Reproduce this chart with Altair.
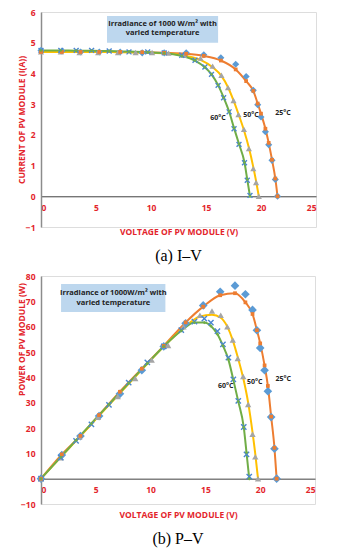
import altair as alt
import pandas as pd

# ---------------- data ----------------
# measurement voltages (V)
V_25 = [0, 1.9, 3.6, 5.3, 7.2, 9.2, 11.2, 13.2, 14.8, 16.35, 17.7, 18.65, 19.3, 19.7, 20.0, 20.4, 20.7, 21.0, 21.3, 21.5]
V_50 = [0, 1.8, 3.5, 5.2, 7.0, 8.6, 10.1, 11.6, 13.0, 14.5, 15.6, 16.4, 17.0, 17.5, 17.95, 18.45, 18.9, 19.3, 19.55, 19.8]
V_60 = [0, 1.8, 3.2, 4.6, 6.2, 8.0, 9.7, 11.2, 12.8, 14.0, 14.9, 15.5, 16.1, 16.6, 17.1, 17.55, 18.0, 18.5, 18.75, 19.0]

# I-V : markers (measured) and smooth lines (model)
I_25_pts = [4.75, 4.73, 4.7, 4.7, 4.7, 4.67, 4.67, 4.67, 4.61, 4.51, 4.3, 3.9, 3.45, 2.98, 2.58, 2.1, 1.68, 1.17, 0.55, 0.0]
I_25_line = [4.7, 4.7, 4.7, 4.7, 4.7, 4.69, 4.67, 4.64, 4.57, 4.42, 4.13, 3.75, 3.43, 3.02, 2.69, 2.2, 1.74, 1.19, 0.58, 0.0]
I_50_pts = [4.7, 4.7, 4.68, 4.68, 4.68, 4.68, 4.68, 4.66, 4.59, 4.5, 4.24, 3.94, 3.54, 3.12, 2.66, 2.18, 1.55, 0.9, 0.45, 0.0]
I_50_line = [4.7, 4.7, 4.7, 4.7, 4.69, 4.68, 4.67, 4.65, 4.58, 4.44, 4.2, 3.92, 3.55, 3.12, 2.68, 2.15, 1.58, 0.95, 0.5, 0.0]
I_60_pts = [4.75, 4.75, 4.75, 4.75, 4.73, 4.7, 4.7, 4.67, 4.59, 4.43, 4.21, 3.97, 3.61, 3.21, 2.75, 2.2, 1.69, 1.09, 0.52, 0.03]
I_60_line = [4.75, 4.75, 4.74, 4.74, 4.73, 4.71, 4.69, 4.66, 4.57, 4.42, 4.2, 3.97, 3.62, 3.22, 2.76, 2.22, 1.7, 1.1, 0.55, 0.0]

# P-V : markers (measured) and smooth lines (model)
P_25_pts = [0, 9.3, 16.8, 24.7, 33.5, 42.8, 52.2, 61.3, 68.4, 73.8, 76.2, 72.8, 66.6, 58.6, 51.6, 42.8, 34.5, 24.3, 11.8, 0]
P_25_line = [0, 9.6, 16.9, 25.1, 34.3, 43.4, 52.4, 61.7, 67.9, 72.4, 73.2, 69.6, 65.0, 58.6, 53.4, 44.7, 36.6, 24.5, 12.2, 0]
P_50_pts = [0, 8.3, 16.4, 24.2, 32.4, 39.5, 46.8, 52.6, 60.0, 64.5, 66.2, 64.5, 60.0, 54.7, 47.4, 40.3, 29.3, 17.5, 8.6, 0]
P_50_line = [0, 8.5, 16.4, 24.4, 32.8, 40.2, 47.2, 53.9, 59.5, 64.0, 64.7, 63.5, 60.0, 54.6, 48.0, 39.7, 30.0, 18.3, 9.8, 0]
P_60_pts = [0, 8.3, 14.9, 21.4, 29.1, 37.9, 45.9, 52.2, 58.6, 62.0, 63.2, 61.6, 58.2, 53.0, 47.8, 39.2, 30.7, 20.4, 9.6, 0.8]
P_60_line = [0, 8.5, 15.2, 21.8, 29.3, 37.7, 45.5, 52.2, 58.4, 61.6, 61.6, 60.3, 57.0, 52.5, 47.0, 39.0, 30.5, 20.3, 10.3, 0]

X_TICKS = [0, 5, 10, 15, 20, 25]
I_TICKS = [-1, 0, 1, 2, 3, 4, 5, 6]
P_TICKS = [-10, 0, 10, 20, 30, 40, 50, 60, 70, 80]

TEMPS = ["25°C", "50°C", "60°C"]
BOX_TEXT_A = ["Irradiance of 1000 W/m² with", "varied temperature"]
BOX_TEXT_B = ["Irradiance of 1000W/m² with", "varied temperature"]

# ---------------- style ----------------
RED = "#e3242b"
ORANGE = "#ed7d31"
YELLOW = "#ffc000"
GREEN = "#70ad47"
BLUE = "#5b9bd5"
BLUE2 = "#4a86d0"
GRAY = "#a5a5a5"
BOXFILL = "#bdd7ee"
FONT = "Open Sans"
XSHAPE = "M-1,-1L1,1M-1,1L1,-1"


def df(v, y):
    return pd.DataFrame({"V": v, "Y": y})


def panel(line_sets, pts_sets, ydom, yticks, w, h, ytitle, title_y, box_rect, box_lines, box_text_x,
          box_text_y, lab_pos, caption):
    xs = alt.Scale(domain=[0, 25], nice=False, zero=False)
    ys = alt.Scale(domain=ydom, nice=False, zero=False)
    zero_off = -h * (0 - ydom[0]) / (ydom[1] - ydom[0])
    xax = alt.Axis(values=X_TICKS, title="VOLTAGE OF PV MODULE (V)", offset=zero_off, ticks=False,
                   domainColor="#404040", domainWidth=1, labelColor=RED, labelFontWeight="bold",
                   labelFont=FONT, labelFontSize=8.5, labelPadding=7, labelOverlap=False,
                   titleColor=RED, titleFont=FONT, titleFontSize=8.5, titleFontWeight="bold",
                   titlePadding=16, grid=False)
    yax_kw = dict(values=yticks, title=ytitle, ticks=False, domainColor="#8c8c8c", domainWidth=1.5,
                  labelColor=RED, labelFontWeight="bold", labelFont=FONT, labelFontSize=8.5,
                  labelPadding=6, labelOverlap=False, titleColor=RED, titleFont=FONT,
                  titleFontSize=8.5, titleFontWeight="bold", titleX=-20, titleBaseline="middle",
                  titleAlign="center", titleAngle=270, grid=False)
    if title_y is not None:
        yax_kw["titleY"] = title_y
    yax = alt.Axis(**yax_kw)

    def X(field=None, datum=None):
        if datum is not None:
            return alt.X(datum=datum, type="quantitative", scale=xs, axis=xax)
        return alt.X(field, type="quantitative", scale=xs, axis=xax)

    def Y(field=None, datum=None):
        if datum is not None:
            return alt.Y(datum=datum, type="quantitative", scale=ys, axis=yax)
        return alt.Y(field, type="quantitative", scale=ys, axis=yax)

    layers = []
    # annotation box
    bx0, bx1, by0, by1 = box_rect
    layers.append(alt.Chart(pd.DataFrame({"a": [0]})).mark_rect(color=BOXFILL).encode(
        x=X(datum=bx0), x2=alt.datum(bx1), y=Y(datum=by0), y2=alt.datum(by1)))
    for txt, ty in zip(box_lines, box_text_y):
        layers.append(alt.Chart(pd.DataFrame({"t": [txt]})).mark_text(
            font=FONT, fontSize=7.5, fontWeight="bold", color="#222222").encode(
            x=X(datum=box_text_x), y=Y(datum=ty), text="t:N"))

    # model lines
    for (v, y, col) in line_sets:
        layers.append(alt.Chart(df(v, y)).mark_line(color=col, strokeWidth=2, interpolate="monotone").encode(
            x=X("V"), y=Y("Y")))
    # measured markers
    for (v, y, shape, col, size, filled) in pts_sets:
        if filled:
            m = alt.Chart(df(v, y)).mark_point(shape=shape, filled=True, color=col, size=size, opacity=1)
        else:
            m = alt.Chart(df(v, y)).mark_point(shape=shape, filled=False, color=col, size=size,
                                               strokeWidth=1.4, opacity=1)
        layers.append(m.encode(x=X("V"), y=Y("Y")))
    # small markers on model lines
    v0, y0, _ = line_sets[0]
    layers.append(alt.Chart(df(v0, y0)).mark_point(shape="square", filled=True, color=ORANGE, size=14,
                                                   opacity=1).encode(x=X("V"), y=Y("Y")))
    v2, y2, _ = line_sets[2]
    layers.append(alt.Chart(df(v2, y2)).mark_point(shape="diamond", filled=True, color=GREEN, size=12,
                                                   opacity=1).encode(x=X("V"), y=Y("Y")))

    # temperature labels
    for t, (lx, ly) in zip(TEMPS, lab_pos):
        layers.append(alt.Chart(pd.DataFrame({"t": [t]})).mark_text(
            font=FONT, fontSize=7, fontWeight="bold", color="#222222").encode(
            x=X(datum=lx), y=Y(datum=ly), text="t:N"))

    return alt.layer(*layers).properties(
        width=w, height=h,
        title=alt.TitleParams(caption, orient="bottom", anchor="middle", font="Liberation Serif",
                              fontSize=16, fontWeight="normal", color="black", offset=12))


top = panel(
    [(V_25, I_25_line, ORANGE), (V_50, I_50_line, YELLOW), (V_60, I_60_line, GREEN)],
    [(V_25, I_25_pts, "diamond", BLUE, 50, True), (V_50, I_50_pts, "triangle-up", GRAY, 38, True),
     (V_60, I_60_pts, XSHAPE, BLUE2, 24, False)],
    [-1, 6], I_TICKS, 275, 215, "CURRENT OF PV MODULE (I(A))", None,
    (6.0, 16.1, 5.0, 5.87), BOX_TEXT_A, 11.05, [5.61, 5.32],
    [(22.0, 2.7), (19.1, 2.65), (16.1, 2.55)], "(a) I\u2013V")

bottom = panel(
    [(V_25, P_25_line, ORANGE), (V_50, P_50_line, YELLOW), (V_60, P_60_line, GREEN)],
    [(V_25, P_25_pts, "diamond", BLUE, 75, True), (V_50, P_50_pts, "triangle-up", GRAY, 40, True),
     (V_60, P_60_pts, XSHAPE, BLUE2, 28, False)],
    [-10, 80], P_TICKS, 274, 228, "POWER OF PV MODULE (W)", 63,
    (1.83, 11.35, 65.8, 76.8), BOX_TEXT_B, 6.6, [73.3, 69.3],
    [(22.1, 39.3), (19.5, 38.2), (16.85, 36.6)], "(b) P\u2013V")

chart = alt.vconcat(top, bottom, spacing=6).properties(
    padding={"left": 8, "top": -1, "right": 5, "bottom": 5}
).configure_view(stroke=None).configure(background="white")

chart.save("out.html", embed_options={"renderer": "svg", "actions": False})
